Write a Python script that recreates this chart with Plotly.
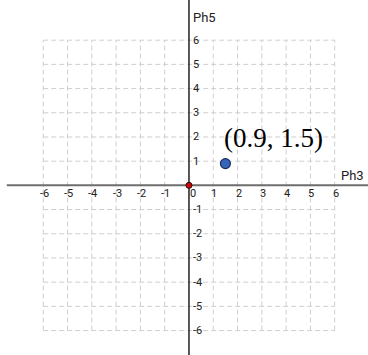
import plotly.graph_objects as go

# Coordinate grid and tick values
ticks = [-6, -5, -4, -3, -2, -1, 0, 1, 2, 3, 4, 5, 6]
x_title = "Ph3"
y_title = "Ph5"

# Plotted points
point_x = [1.5]
point_y = [0.9]
origin_x = [0]
origin_y = [0]
point_label = "(0.9, 1.5)"

x_range = [-7.78, 7.37]
y_range = [-7.01, 7.66]

fig = go.Figure()

shapes = []
grid_style = dict(color="#cfcfcf", width=1, dash="5px,3px")
lo, hi = min(ticks), max(ticks)
for t in ticks:
    if t == 0:
        continue
    shapes.append(dict(type="line", xref="x", yref="y", x0=t, x1=t, y0=lo, y1=hi,
                       line=grid_style, layer="below"))
    shapes.append(dict(type="line", xref="x", yref="y", x0=lo, x1=hi, y0=t, y1=t,
                       line=grid_style, layer="below"))

# Axis lines
shapes.append(dict(type="line", xref="x", yref="y", x0=-7.5, x1=x_range[1], y0=0, y1=0,
                   line=dict(color="#6e6e6e", width=2), layer="below"))
shapes.append(dict(type="line", xref="x", yref="y", x0=0, x1=0, y0=y_range[0], y1=y_range[1],
                   line=dict(color="#222222", width=1.5), layer="below"))

annotations = []
tick_font = dict(family="Roboto", size=11, color="#222222")
for t in ticks:
    annotations.append(dict(x=t, y=0, xref="x", yref="y", text=str(t), showarrow=False,
                            xanchor="center", yanchor="middle",
                            xshift=(4 if t == 0 else 1), yshift=-8, font=tick_font))
    if t != 0:
        annotations.append(dict(x=0, y=t, xref="x", yref="y", text=str(t), showarrow=False,
                                xanchor="left", yanchor="middle", xshift=2, yshift=0,
                                font=tick_font))

axis_font = dict(family="Roboto", size=13, color="#222222")
annotations.append(dict(x=0, y=y_range[1], xref="x", yref="y", text=y_title, showarrow=False,
                        xanchor="left", yanchor="top", xshift=2, yshift=-8, font=axis_font))
annotations.append(dict(x=x_range[1], y=0, xref="x", yref="y", text=x_title, showarrow=False,
                        xanchor="right", yanchor="bottom", xshift=-2, yshift=0, font=axis_font))

annotations.append(dict(x=point_x[0], y=point_y[0], xref="x", yref="y", text=point_label,
                        showarrow=False, xanchor="left", yanchor="middle", xshift=-3, yshift=26,
                        font=dict(family="Liberation Serif", size=27, color="#000000")))

fig.add_trace(go.Scatter(x=point_x, y=point_y, mode="markers", hoverinfo="skip",
                         marker=dict(size=10, color="#3565b8",
                                     line=dict(color="#1c2f5a", width=1.2))))
fig.add_trace(go.Scatter(x=origin_x, y=origin_y, mode="markers", hoverinfo="skip",
                         marker=dict(size=6, color="#e00000",
                                     line=dict(color="#111111", width=1))))

fig.update_layout(
    width=368, height=355, margin=dict(l=0, r=0, t=0, b=0),
    paper_bgcolor="white", plot_bgcolor="white", showlegend=False,
    xaxis=dict(range=x_range, showgrid=False, zeroline=False, showticklabels=False,
               fixedrange=True),
    yaxis=dict(range=y_range, showgrid=False, zeroline=False, showticklabels=False,
               fixedrange=True),
    shapes=shapes, annotations=annotations,
)

fig.write_html("out.html")
